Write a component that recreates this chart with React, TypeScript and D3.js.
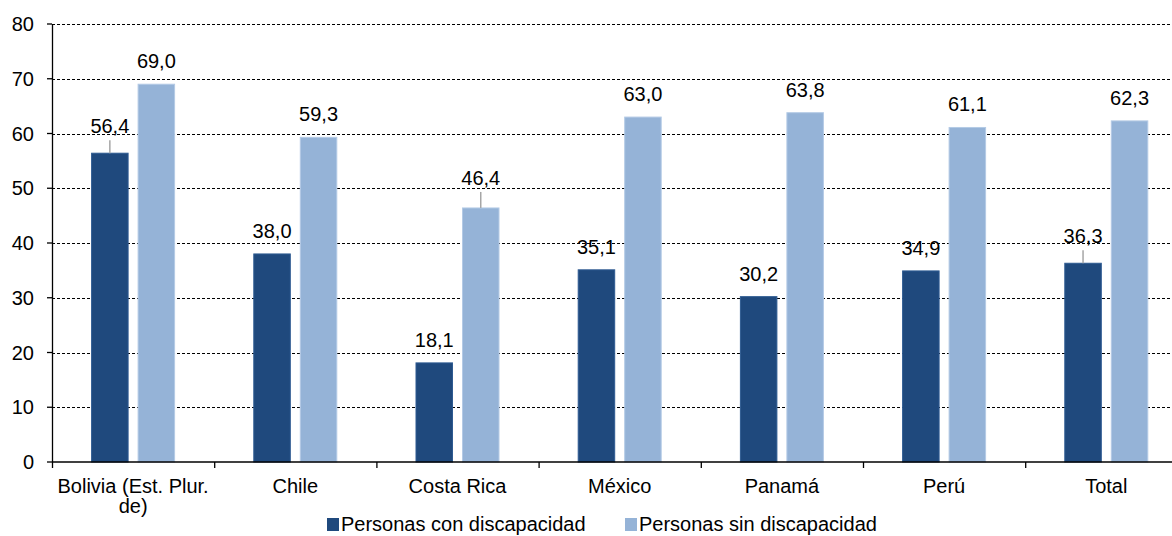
import React from "react";
import * as d3 from "d3";

// Participation rates by country and disability status
const categories = [
  "Bolivia (Est. Plur. de)",
  "Chile",
  "Costa Rica",
  "México",
  "Panamá",
  "Perú",
  "Total",
];
const conDiscapacidad = [56.4, 38.0, 18.1, 35.1, 30.2, 34.9, 36.3];
const sinDiscapacidad = [69.0, 59.3, 46.4, 63.0, 63.8, 61.1, 62.3];
const seriesNames = ["Personas con discapacidad", "Personas sin discapacidad"];
const yTicks = [0, 10, 20, 30, 40, 50, 60, 70, 80];

// category labels split over lines
const categoryLines: Record<string, string[]> = {
  "Bolivia (Est. Plur. de)": ["Bolivia (Est. Plur.", "de)"],
};

const W = 1172;
const H = 536;
const FONT = "'Liberation Sans', Arial, sans-serif";
const FS = 20;
const COLORS = ["#1F497D", "#95B3D7"];
const STROKES = ["#2E5B92", "#B4CAE5"];

// labels lifted above their bar with a short leader line (series index, category index, extra px)
const liftedLabels: [number, number, number][] = [
  [0, 0, 4],
  [1, 2, 7],
  [0, 6, 4],
];

const fmt = (v: number) => v.toFixed(1).replace(".", ",");

export default function App() {
  const left = 52;
  const step = 162.2;
  const x0 = d3
    .scaleBand<string>()
    .domain(categories)
    .range([left, left + step * categories.length])
    .paddingInner(0)
    .paddingOuter(0);
  const bw = x0.bandwidth();
  const x1 = d3
    .scaleBand<number>()
    .domain([0, 1])
    .range([bw / 2 - 41.5, bw / 2 + 41.5])
    .paddingInner(0.215)
    .paddingOuter(0);
  const y = d3.scaleLinear().domain([0, 80]).range([462, 24]);

  const series = [conDiscapacidad, sinDiscapacidad];

  return (
    <svg
      width={W}
      height={H}
      style={{ position: "absolute", left: 0, top: 0, background: "#fff" }}
      fontFamily={FONT}
    >
      {/* gridlines */}
      {yTicks
        .filter((t) => t > 0)
        .map((t) => (
          <line
            key={`g${t}`}
            x1={left}
            x2={W}
            y1={Math.round(y(t)) + 0.5}
            y2={Math.round(y(t)) + 0.5}
            stroke="#000"
            strokeWidth={1}
            strokeDasharray="3,2"
          />
        ))}

      {/* bars */}
      {series.map((vals, si) =>
        vals.map((v, ci) => {
          const bx = (x0(categories[ci]) as number) + (x1(si) as number);
          return (
            <rect
              key={`b${si}-${ci}`}
              x={bx}
              y={y(v)}
              width={x1.bandwidth()}
              height={y(0) - y(v)}
              fill={COLORS[si]}
              stroke={STROKES[si]}
              strokeWidth={1}
            />
          );
        })
      )}

      {/* value labels */}
      {series.map((vals, si) =>
        vals.map((v, ci) => {
          const cx =
            (x0(categories[ci]) as number) + (x1(si) as number) + x1.bandwidth() / 2;
          const top = y(v);
          const lift = liftedLabels.find((l) => l[0] === si && l[1] === ci);
          const extra = lift ? lift[2] : 0;
          const base = top - 16 - extra;
          return (
            <g key={`l${si}-${ci}`}>
              {lift && (
                <line
                  x1={cx}
                  x2={cx}
                  y1={base + 7}
                  y2={top}
                  stroke="#A6A6A6"
                  strokeWidth={1.5}
                />
              )}
              <text x={cx} y={base} textAnchor="middle" fontSize={FS} fill="#000">
                {fmt(v)}
              </text>
            </g>
          );
        })
      )}

      {/* y axis */}
      <line x1={left + 0.5} x2={left + 0.5} y1={y(80)} y2={y(0)} stroke="#000" strokeWidth={1.3} />
      {yTicks.map((t) => (
        <g key={`yt${t}`}>
          <line x1={left - 5} x2={left} y1={y(t)} y2={y(t)} stroke="#000" strokeWidth={1.3} />
          <text x={34} y={y(t) + 7} textAnchor="end" fontSize={FS} fill="#000">
            {t}
          </text>
        </g>
      ))}

      {/* x axis */}
      <line x1={left} x2={W} y1={y(0)} y2={y(0)} stroke="#000" strokeWidth={1.5} />
      {categories.map((c) => {
        const bx = x0(c) as number;
        return (
          <line key={`xt${c}`} x1={bx + 0.5} x2={bx + 0.5} y1={y(0)} y2={y(0) + 6} stroke="#000" strokeWidth={1.3} />
        );
      })}
      {categories.map((c) => {
        const cx = (x0(c) as number) + bw / 2;
        const lines = categoryLines[c] || [c];
        return (
          <text key={`xl${c}`} x={cx} y={493} textAnchor="middle" fontSize={FS} fill="#000">
            {lines.map((ln, i) => (
              <tspan key={i} x={cx} dy={i === 0 ? 0 : 20}>
                {ln}
              </tspan>
            ))}
          </text>
        );
      })}

      {/* legend */}
      {seriesNames.map((name, i) => {
        const lx = [327, 625][i];
        return (
          <g key={`lg${i}`}>
            <rect x={lx} y={518} width={12} height={13} fill={COLORS[i]} />
            <text x={lx + 14} y={531} fontSize={FS} fill="#000">
              {name}
            </text>
          </g>
        );
      })}
    </svg>
  );
}
